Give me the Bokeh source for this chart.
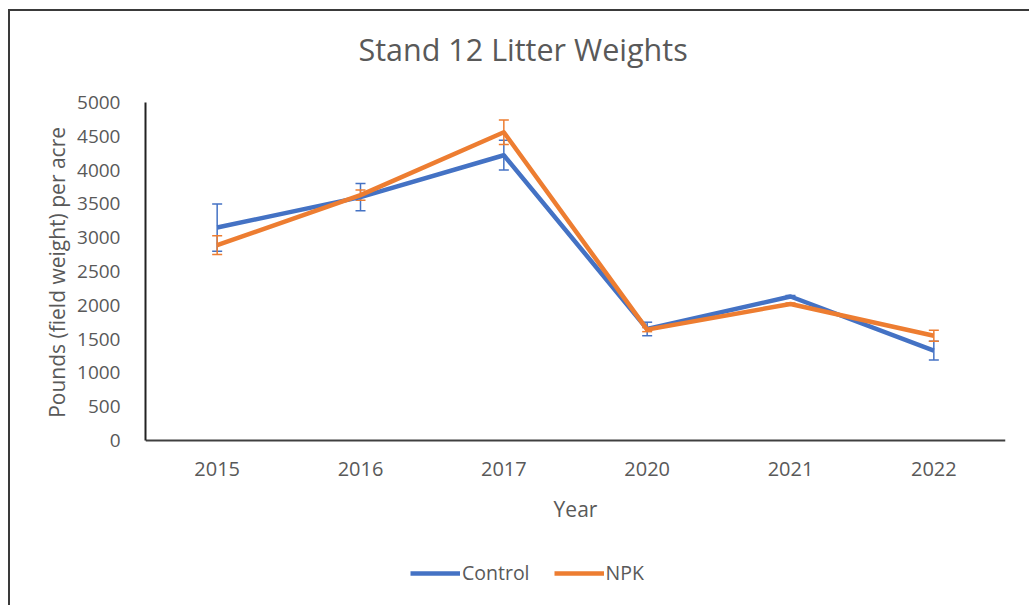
from bokeh.plotting import figure
from bokeh.models import (ColumnDataSource, Range1d, FactorRange, Whisker, TeeHead,
                          Legend, LegendItem, Title)
from bokeh.embed import file_html
from bokeh.resources import INLINE

years = ["2015", "2016", "2017", "2020", "2021", "2022"]
control = [3150, 3600, 4220, 1650, 2130, 1330]
control_err = [350, 200, 220, 100, 15, 140]
npk = [2890, 3630, 4560, 1640, 2020, 1550]
npk_err = [140, 75, 180, 30, 15, 80]
y_ticks = [0, 500, 1000, 1500, 2000, 2500, 3000, 3500, 4000, 4500, 5000]

BLUE = "#4472C4"
ORANGE = "#ED7D31"
TXT = "#595959"
FONT = "Open Sans"

src_c = ColumnDataSource(dict(x=years, y=control,
                              lo=[v - e for v, e in zip(control, control_err)],
                              hi=[v + e for v, e in zip(control, control_err)]))
src_n = ColumnDataSource(dict(x=years, y=npk,
                              lo=[v - e for v, e in zip(npk, npk_err)],
                              hi=[v + e for v, e in zip(npk, npk_err)]))

# value axis 0..5000 spans 338 px; the frame continues below it to hold the legend
AXIS_PX, FRAME_PX = 338, 498
y_top = y_ticks[-1]
y_bottom = y_top - y_top * FRAME_PX / AXIS_PX

p = figure(frame_width=860, frame_height=FRAME_PX,
           x_range=FactorRange(*years, range_padding=0),
           y_range=Range1d(y_bottom, y_top), output_backend="svg", toolbar_location=None,
           min_border_left=135, min_border_right=24, min_border_top=91, min_border_bottom=10)
p.styles = {"margin-left": "8px", "margin-top": "9px",
            "border-left": "2px solid #3a3a3a", "border-top": "2px solid #3a3a3a"}

p.title.text = ""
# spacer between frame and title
p.add_layout(Title(text=" ", text_font_size="1px", standoff=30), "above")
p.add_layout(Title(text="Stand 12 Litter Weights", align="left", offset=213,
                   vertical_align="bottom", standoff=0,
                   text_font=FONT, text_font_size="30.5px", text_font_style="normal",
                   text_color=TXT), "above")

p.outline_line_color = None
p.xgrid.grid_line_color = None
p.ygrid.grid_line_color = None

p.yaxis.ticker = y_ticks
p.yaxis.bounds = (0, y_top)
p.xaxis.fixed_location = 0
for ax in (p.xaxis, p.yaxis):
    ax.major_tick_line_color = None
    ax.minor_tick_line_color = None
    ax.major_label_text_font = FONT
    ax.major_label_text_font_size = "19px"
    ax.major_label_text_color = TXT
    ax.axis_label_text_font = FONT
    ax.axis_label_text_font_size = "21px"
    ax.axis_label_text_font_style = "normal"
    ax.axis_label_text_color = TXT
    ax.axis_line_width = 2
p.xaxis.major_label_text_font_size = "20px"
p.yaxis.axis_line_color = "#222222"
p.xaxis.axis_line_color = "#404040"
# leading no-break spaces lift the label so it is centred on the 0..5000 axis span
p.yaxis.axis_label = "\u00a0" * 29 + "Pounds (field weight) per acre"
p.xaxis.axis_label = "Year"
p.yaxis.major_label_standoff = 19
p.yaxis.axis_label_standoff = 3
p.xaxis.major_label_standoff = 15
p.xaxis.axis_label_standoff = 16

lc = p.line("x", "y", source=src_c, line_color=BLUE, line_width=4.5, line_join="round")
p.add_layout(Whisker(source=src_c, base="x", upper="hi", lower="lo",
                     line_color=BLUE, line_width=1.5,
                     upper_head=TeeHead(size=10, line_color=BLUE, line_width=1.5),
                     lower_head=TeeHead(size=10, line_color=BLUE, line_width=1.5)))
ln = p.line("x", "y", source=src_n, line_color=ORANGE, line_width=4.5, line_join="round")
p.add_layout(Whisker(source=src_n, base="x", upper="hi", lower="lo",
                     line_color=ORANGE, line_width=1.5,
                     upper_head=TeeHead(size=10, line_color=ORANGE, line_width=1.5),
                     lower_head=TeeHead(size=10, line_color=ORANGE, line_width=1.5)))

legend = Legend(items=[LegendItem(label="Control", renderers=[lc]),
                       LegendItem(label="NPK", renderers=[ln])],
                orientation="horizontal", location=(265, 14),
                padding=0, margin=0, spacing=24, glyph_width=50, glyph_height=20,
                label_standoff=2, label_height=20,
                label_text_font=FONT, label_text_font_size="19.5px", label_text_color=TXT,
                border_line_color=None, background_fill_alpha=0)
p.add_layout(legend, "center")

open("out.html", "w").write(file_html(p, INLINE))
